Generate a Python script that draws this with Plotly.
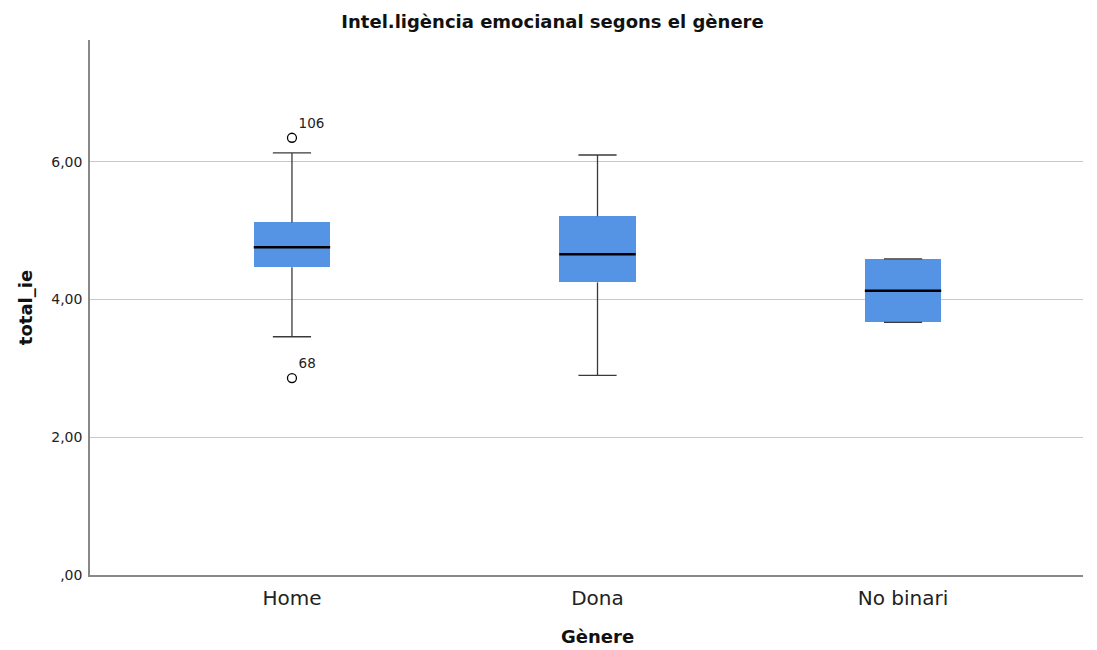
import plotly.graph_objects as go

categories = ["Home", "Dona", "No binari"]
q1 = [4.47, 4.25, 3.67]
median = [4.76, 4.66, 4.13]
q3 = [5.12, 5.21, 4.59]
lower_whisker = [3.46, 2.90, 3.67]
upper_whisker = [6.13, 6.10, 4.59]
outlier_cat = [0, 0]
outlier_val = [6.35, 2.86]
outlier_label = ["106", "68"]
y_ticks = [0, 2, 4, 6]
y_tick_labels = [",00", "2,00", "4,00", "6,00"]

BOX_W = 0.25
CAP_W = 0.125
BLUE = "#5593E5"
FONT = "DejaVu Sans"

fig = go.Figure()

xs = list(range(len(categories)))

# whiskers
for i in xs:
    fig.add_trace(go.Scatter(
        x=[i, i, None, i, i, None,
           i - CAP_W / 2, i + CAP_W / 2, None, i - CAP_W / 2, i + CAP_W / 2],
        y=[q3[i], upper_whisker[i], None, q1[i], lower_whisker[i], None,
           upper_whisker[i], upper_whisker[i], None, lower_whisker[i], lower_whisker[i]],
        mode="lines", line=dict(color="#3a3a3a", width=1.3),
        showlegend=False, hoverinfo="skip"))

# boxes
fig.add_trace(go.Bar(
    x=xs, y=[q3[i] - q1[i] for i in xs], base=q1, width=BOX_W,
    marker=dict(color=BLUE, line=dict(width=0)),
    showlegend=False, hoverinfo="skip"))

# medians
mx, my = [], []
for i in xs:
    mx += [i - BOX_W / 2, i + BOX_W / 2, None]
    my += [median[i], median[i], None]
fig.add_trace(go.Scatter(x=mx, y=my, mode="lines",
                         line=dict(color="black", width=2.5),
                         showlegend=False, hoverinfo="skip"))

# outliers
fig.add_trace(go.Scatter(
    x=outlier_cat, y=outlier_val, mode="markers+text",
    marker=dict(symbol="circle-open", size=9, color="black", line=dict(width=1.3)),
    text=outlier_label, textposition="top right",
    textfont=dict(family=FONT, size=13.5, color="#222"),
    showlegend=False, hoverinfo="skip"))

fig.update_layout(
    width=1089, height=642,
    paper_bgcolor="white", plot_bgcolor="white",
    margin=dict(l=82, r=14, t=32, b=75),
    title=dict(text="<b>Intel.ligència emocianal segons el gènere</b>",
               x=0.5, xref="container", xanchor="center",
               y=14 / 642, yref="container", yanchor="middle",
               font=dict(family=FONT, size=18, color="#111")),
    bargap=0,
    font=dict(family=FONT),
)
fig.update_layout(title_y=1 - 14 / 642)
fig.update_xaxes(
    range=[-0.661, 2.589], tickmode="array", tickvals=xs, ticktext=categories,
    showgrid=False, zeroline=False, showline=True, linecolor="#888", linewidth=1.5,
    ticks="outside", ticklen=4, tickcolor="rgba(0,0,0,0)",
    tickfont=dict(family=FONT, size=20, color="#222"),
)
fig.update_yaxes(
    range=[0, 7.77], tickmode="array", tickvals=y_ticks, ticktext=y_tick_labels,
    showgrid=True, gridcolor="#c8c8c8", gridwidth=1.3, zeroline=False,
    showline=True, linecolor="#888", linewidth=1.5,
    ticks="outside", ticklen=3, tickcolor="rgba(0,0,0,0)",
    tickfont=dict(family=FONT, size=14, color="#222"),
    title=dict(text="<b>total_ie</b>", font=dict(family=FONT, size=18, color="#111"),
               standoff=14),
)
fig.add_annotation(x=1, y=-0.115, xref="x", yref="paper", text="<b>Gènere</b>",
                   showarrow=False, font=dict(family=FONT, size=18, color="#111"),
                   yanchor="middle")

fig.write_html("out.html")
